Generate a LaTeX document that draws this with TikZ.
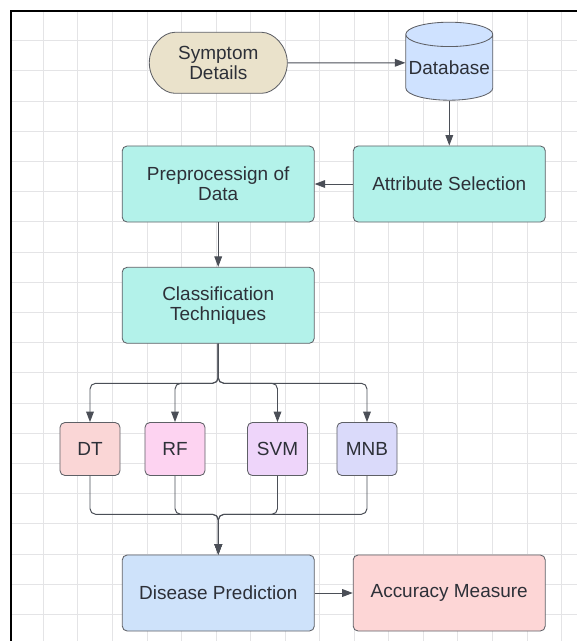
\documentclass[tikz,border=0pt]{standalone}
\usepackage{fontspec}
\setmainfont{Liberation Sans}
\usetikzlibrary{arrows.meta,shapes.geometric,shapes.misc}

\definecolor{ink}{HTML}{2D3038}
\definecolor{boxline}{HTML}{5E6066}
\definecolor{linkgray}{HTML}{4B4F57}
\definecolor{gridgray}{HTML}{E4E4E6}
\definecolor{symfill}{HTML}{EAE2CB}
\definecolor{dbfill}{HTML}{CFE2FF}
\definecolor{tealfill}{HTML}{B3F2EA}
\definecolor{dtfill}{HTML}{FAD6D6}
\definecolor{rffill}{HTML}{FDD3F1}
\definecolor{svmfill}{HTML}{EED5FA}
\definecolor{mnbfill}{HTML}{DADAFA}
\definecolor{disfill}{HTML}{CEE2FA}
\definecolor{accfill}{HTML}{FDD6D6}

\tikzset{
  box/.style={draw=boxline, line width=0.6pt, rounded corners=3.5pt, align=center,
    text=ink, font=\fontsize{13.5}{14.2}\selectfont, inner sep=0pt},
  bigbox/.style={box, minimum width=4.8cm, minimum height=1.9cm},
  smallbox/.style={box, minimum width=1.5cm, minimum height=1.325cm},
  link/.style={draw=linkgray, line width=0.7pt, rounded corners=4pt,
    -{Triangle[length=7.5pt,width=5.5pt]}},
  gridline/.style={draw=gridgray, line width=0.6pt},
}

\begin{document}
\begin{tikzpicture}[x=0.025cm, y=-0.025cm]
  \useasboundingbox (0,0) rectangle (577,641);
  % Grid
  \foreach \gx in {0,...,15}
    \draw[gridline] ({43.3+34.55*\gx},12) -- ({43.3+34.55*\gx},641);
  \foreach \gy in {0,...,19}
    \draw[gridline] (12,{40.7+30.2*\gy}) -- (577,{40.7+30.2*\gy});
  % Frame
  \draw[line width=1.5pt] (11,641) -- (11,11) -- (577,11);
  % Input and storage
  \node[box, shape=rounded rectangle, fill=symfill, minimum width=3.45cm,
    minimum height=1.525cm] (sym) at (218.3,62.8) {Symptom\\Details};
  \node[shape=cylinder, shape border rotate=90, aspect=0.3, draw=boxline, line width=0.6pt,
    cylinder uses custom fill, cylinder body fill=dbfill, cylinder end fill=dbfill,
    minimum width=2.175cm, minimum height=1.95cm, inner sep=0pt, text=ink,
    font=\fontsize{13.5}{14.2}\selectfont] (db) at (449.3,67.5) {Database};
  % Processing steps
  \node[bigbox, fill=tealfill] (attr) at (449.3,184) {Attribute Selection};
  \node[bigbox, fill=tealfill] (prep) at (218.2,184) {Preprocessign of\\Data};
  \node[bigbox, fill=tealfill] (cls) at (218.2,305.3) {Classification\\Techniques};
  % Classifiers
  \node[smallbox, fill=dtfill] (dt) at (90,449) {DT};
  \node[smallbox, fill=rffill] (rf) at (175,449) {RF};
  \node[smallbox, fill=svmfill] (svm) at (277.5,449) {SVM};
  \node[smallbox, fill=mnbfill] (mnb) at (367,449) {MNB};
  % Results
  \node[bigbox, fill=disfill] (dis) at (218.3,593) {Disease Prediction};
  \node[bigbox, fill=accfill] (acc) at (449.2,593) {Accuracy Measure};
  % Connectors
  \coordinate (split) at (218.2,383.3);
  \coordinate (merge) at (218.3,514.3);
  \draw[link] (sym) -- (sym -| db.west);
  \draw[link] (db) -- (attr);
  \draw[link] (attr) -- (prep);
  \draw[link] (prep) -- (cls);
  \foreach \t in {dt,rf,svm,mnb}
    \draw[link] (cls.south) -- (split) -| (\t.north);
  \foreach \s in {dt,rf,svm,mnb}
    \draw[link] (\s.south) |- (merge) -- (dis.north);
  \draw[link] (dis) -- (acc);
\end{tikzpicture}
\end{document}
